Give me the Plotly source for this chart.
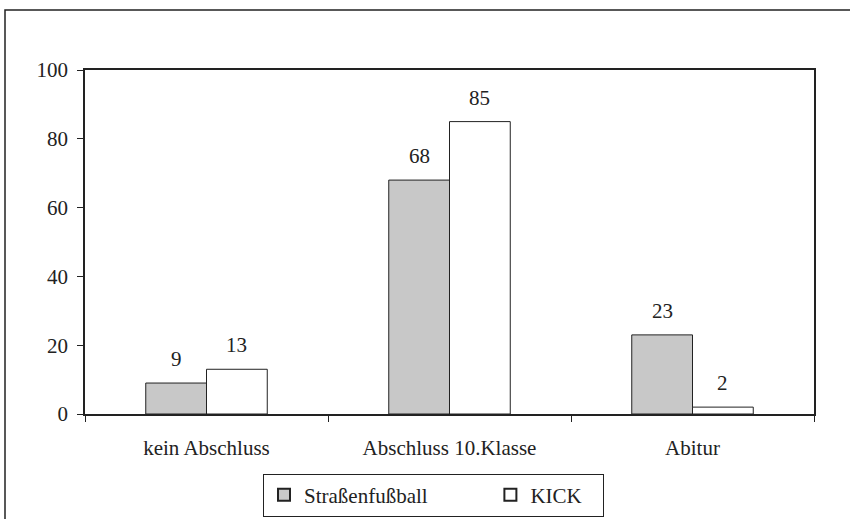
import plotly.graph_objects as go

categories = ["kein Abschluss", "Abschluss 10.Klasse", "Abitur"]
strassenfussball = [9, 68, 23]
kick = [13, 85, 2]
series_names = ["Straßenfußball", "KICK"]
y_ticks = [0, 20, 40, 60, 80, 100]

FONT = "Liberation Serif"
LINE = "#222222"
FS = 21
NBSP = "\u00a0"  # spacing inside the legend entries

fig = go.Figure()
fig.add_trace(go.Bar(
    x=categories, y=strassenfussball, name=series_names[0] + NBSP * 11,
    marker=dict(color="#c8c8c8", line=dict(color=LINE, width=1)),
))
fig.add_trace(go.Bar(
    x=categories, y=kick, name=series_names[1] + NBSP * 3,
    marker=dict(color="#ffffff", line=dict(color=LINE, width=1)),
))

# value labels above each bar
half = 0.125
for i, (a, b) in enumerate(zip(strassenfussball, kick)):
    for off, v in ((-half, a), (half, b)):
        fig.add_annotation(
            x=i + off, y=v, text=str(v), showarrow=False,
            yshift=24, yanchor="middle", xanchor="center",
            font=dict(family=FONT, size=FS, color="#222"),
        )

# outer frame
fig.add_shape(type="rect", xref="paper", yref="paper",
              x0=(5 - 85) / 729, x1=(860 - 85) / 729,
              y0=(414 - 540) / 344, y1=(414 - 10) / 344,
              line=dict(color=LINE, width=1.5), fillcolor="rgba(0,0,0,0)",
              layer="below")

fig.update_layout(
    width=850, height=519,
    margin=dict(l=85, r=36, t=70, b=105, autoexpand=False),
    paper_bgcolor="white", plot_bgcolor="white",
    barmode="group", bargap=0.5, bargroupgap=0,
    font=dict(family=FONT, size=FS, color="#222"),
    showlegend=True,
    legend=dict(
        orientation="h", x=(263 - 85) / 729, xanchor="left",
        y=(414 - 495) / 344, yanchor="middle",
        bordercolor=LINE, borderwidth=1,
        font=dict(family=FONT, size=FS, color="#222"),
        itemsizing="constant",
    ),
    xaxis=dict(
        showline=True, linecolor=LINE, linewidth=1.5, mirror=True,
        ticks="outside", tickson="boundaries", ticklen=6, tickcolor=LINE,
        showgrid=False, ticklabelstandoff=14,
        tickfont=dict(family=FONT, size=FS),
    ),
    yaxis=dict(
        range=[0, 100], tickvals=y_ticks,
        showline=True, linecolor=LINE, linewidth=1.5, mirror=True,
        ticks="outside", ticklen=6, tickcolor=LINE,
        showgrid=False, zeroline=False, ticklabelstandoff=5,
        tickfont=dict(family=FONT, size=FS),
    ),
)

fig.write_html("out.html")
